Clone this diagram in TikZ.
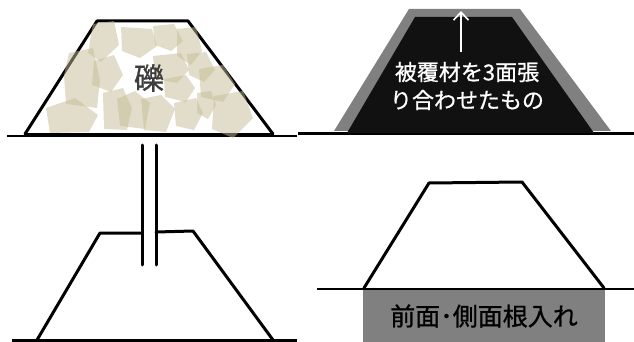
\documentclass[tikz,border=0pt]{standalone}
\usepackage{fontspec}
\newfontfamily\jpfont[FakeBold=0.8]{Noto Sans CJK JP}
\usetikzlibrary{arrows.meta}
\definecolor{rockfill}{RGB}{196,188,150}
\definecolor{coverGray}{RGB}{128,128,128}
\definecolor{coreBlack}{RGB}{17,17,17}
\definecolor{labelGray}{RGB}{60,60,60}
\tikzset{
  outline/.style={line width=3pt, line join=round, line cap=round},
  ground/.style={line width=2pt},
  rock/.style={fill=rockfill, fill opacity=0.5},
  jplabel/.style={font=\jpfont, inner sep=0pt, align=center},
}
\begin{document}
\begin{tikzpicture}[x=1pt,y=-1pt]
\useasboundingbox (0,0) rectangle (634,342);

% --- upper left: gravel-filled mound ---
\draw[ground] (7,136) -- (297,136);
\draw[line width=3.5pt] (25,135) -- (273,135);
\draw[outline] (25,134) -- (97,21) -- (188,21) -- (273,134);
\foreach \p in {
  {(93,24) -- (114,21) -- (119,45) -- (101,62) -- (88,53)},
  {(121,27) -- (152,29) -- (157,46) -- (140,58) -- (122,51)},
  {(153,26) -- (174,24) -- (183,41) -- (171,51) -- (155,45)},
  {(177,29) -- (196,27) -- (202,51) -- (191,65) -- (177,56)},
  {(69,53) -- (93,48) -- (100,80) -- (97,108) -- (66,104) -- (64,75)},
  {(94,61) -- (114,55) -- (123,75) -- (111,92) -- (92,85)},
  {(153,56) -- (181,53) -- (189,70) -- (177,83) -- (155,79)},
  {(187,54) -- (206,52) -- (215,70) -- (204,82) -- (189,75)},
  {(199,69) -- (223,65) -- (235,84) -- (223,102) -- (201,97)},
  {(46,108) -- (75,98) -- (98,115) -- (89,132) -- (50,133)},
  {(103,93) -- (123,88) -- (132,108) -- (127,130) -- (104,129)},
  {(117,99) -- (135,91) -- (150,103) -- (145,129) -- (120,126)},
  {(141,99) -- (161,95) -- (175,109) -- (166,132) -- (144,130)},
  {(164,79) -- (186,75) -- (195,88) -- (186,102) -- (165,97)},
  {(174,103) -- (196,98) -- (203,113) -- (194,130) -- (176,126)},
  {(197,93) -- (211,91) -- (216,105) -- (208,119) -- (197,113)},
  {(214,96) -- (243,91) -- (253,118) -- (233,138) -- (212,129)}
}{
  \fill[rock] \p -- cycle;
}
\node[jplabel, text=labelGray, font=\jpfont\fontsize{30pt}{32pt}\selectfont] (gravel) at (149,78) {礫};

% --- upper right: mound wrapped on three faces ---
\draw[ground] (298,133.5) -- (634,133.5);
\fill[coverGray] (334,131) -- (409,9) -- (520,9) -- (611,131) -- cycle;
\fill[coreBlack] (347,133) -- (415,17) -- (512,17) -- (594,133) -- cycle;
\coordinate (arrowFoot) at (461,52);
\coordinate (arrowHead) at (461,11);
\draw[white, line width=2pt, -{Straight Barb[length=8pt, width=15pt, line width=1.6pt]}] (arrowFoot) -- (arrowHead);
\node[jplabel, text=white, font=\jpfont\fontsize{22pt}{28pt}\selectfont] (wrapLabel) at (467,86)
  {被覆材を3面張\\り合わせたもの};

% --- lower left: mound with a cut ---
\draw[ground, line width=2.5pt] (12,340.5) -- (297,340.5);
\draw[outline] (142,233) -- (100,233) -- (37,340);
\draw[outline] (156,232) -- (193,231) -- (273,340);
\draw[outline] (142,145) -- (142,265);
\draw[outline] (156,145) -- (156,265);

% --- lower right: mound with front and side embedment ---
\fill[coverGray] (363,289) rectangle (605,342);
\draw[ground] (317,289) -- (634,289);
\draw[outline] (364,288) -- (429,183) -- (522,182) -- (604,288);
\node[jplabel, text=black, font=\jpfont\fontsize{25pt}{28pt}\selectfont] (embedLabel) at (484,316) {前面･側面根入れ};
\end{tikzpicture}
\end{document}
